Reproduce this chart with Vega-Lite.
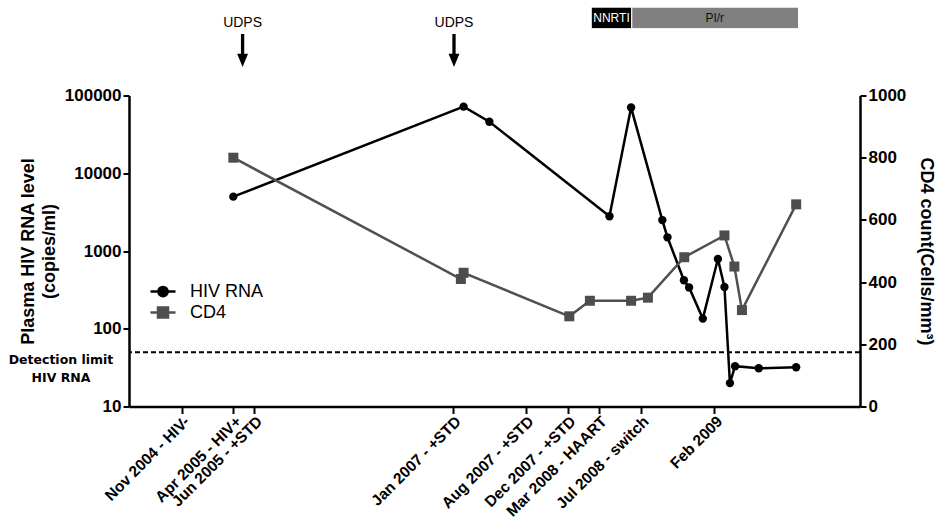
{
  "$schema": "https://vega.github.io/schema/vega-lite/v6.json",
  "background": "white",
  "padding": {"left": 8, "top": 0, "right": 10, "bottom": 0},
  "config": {
    "view": {"stroke": null},
    "font": "Liberation Sans",
    "axis": {"domainColor": "black", "tickColor": "black", "labelColor": "black", "titleColor": "black", "grid": false}
  },
  "datasets": {
    "hiv": [
      {"date": "2005-04-01", "copies": 5000},
      {"date": "2007-02-01", "copies": 72000},
      {"date": "2007-04-17", "copies": 46000},
      {"date": "2008-04-01", "copies": 2800},
      {"date": "2008-06-03", "copies": 70000},
      {"date": "2008-09-02", "copies": 2500},
      {"date": "2008-09-17", "copies": 1500},
      {"date": "2008-11-04", "copies": 420},
      {"date": "2008-11-19", "copies": 340},
      {"date": "2008-12-29", "copies": 135},
      {"date": "2009-02-11", "copies": 790},
      {"date": "2009-03-02", "copies": 345},
      {"date": "2009-03-18", "copies": 20},
      {"date": "2009-04-02", "copies": 33},
      {"date": "2009-06-10", "copies": 31},
      {"date": "2009-09-27", "copies": 32}
    ],
    "cd4": [
      {"date": "2005-04-01", "cells": 800},
      {"date": "2007-01-24", "cells": 410},
      {"date": "2007-02-01", "cells": 430},
      {"date": "2007-12-06", "cells": 290},
      {"date": "2008-02-04", "cells": 340},
      {"date": "2008-06-03", "cells": 340},
      {"date": "2008-07-22", "cells": 350},
      {"date": "2008-11-05", "cells": 480},
      {"date": "2009-03-02", "cells": 550},
      {"date": "2009-03-31", "cells": 450},
      {"date": "2009-04-22", "cells": 310},
      {"date": "2009-09-27", "cells": 650}
    ],
    "regimen": [
      {"drug": "NNRTI", "start": "2008-02-08", "end": "2008-06-05"},
      {"drug": "PI/r", "start": "2008-06-05", "end": "2009-10-04"}
    ],
    "udps": [
      {"label": "UDPS", "date": "2005-04-28"},
      {"label": "UDPS", "date": "2007-01-04"}
    ]
  },
  "bounds": "flush",
  "spacing": 7.5,
  "resolve": {"scale": {"color": "independent", "fill": "independent"}, "legend": {"color": "independent", "fill": "independent"}},
  "vconcat": [
    {
      "width": 731,
      "height": 88,
      "layer": [
        {
          "data": {"name": "regimen"},
          "transform": [{"filter": "datum.drug == 'NNRTI'"}],
          "mark": {"type": "rect", "fill": "black", "stroke": "white", "strokeWidth": 1},
          "encoding": {
            "x": {"field": "start", "type": "temporal", "axis": null,
                  "scale": {"domain": [{"year": 2004, "month": 6, "date": 1}, {"year": 2010, "month": 4, "date": 1}]}},
            "x2": {"field": "end"},
            "y": {"datum": 7.3, "type": "quantitative", "axis": null, "scale": {"domain": [0, 88], "reverse": true}},
            "y2": {"datum": 29.3}
          }
        },
        {
          "data": {"name": "regimen"},
          "transform": [{"filter": "datum.drug == 'PI/r'"}],
          "mark": {"type": "rect", "fill": "#808080", "stroke": "white", "strokeWidth": 1},
          "encoding": {
            "x": {"field": "start", "type": "temporal", "axis": null},
            "x2": {"field": "end"},
            "y": {"datum": 7.3, "type": "quantitative"},
            "y2": {"datum": 29.3}
          }
        },
        {
          "data": {"name": "regimen"},
          "transform": [{"filter": "datum.drug == 'NNRTI'"}],
          "mark": {"type": "text", "fontSize": 12, "align": "left", "baseline": "middle", "dx": 2, "color": "white"},
          "encoding": {
            "x": {"field": "start", "type": "temporal", "axis": null},
            "y": {"datum": 18.3, "type": "quantitative"},
            "text": {"field": "drug"}
          }
        },
        {
          "data": {"name": "regimen"},
          "transform": [{"filter": "datum.drug == 'PI/r'"}],
          "mark": {"type": "text", "fontSize": 12, "align": "center", "baseline": "middle", "dx": 83, "color": "#111111"},
          "encoding": {
            "x": {"field": "start", "type": "temporal", "axis": null},
            "y": {"datum": 18.3, "type": "quantitative"},
            "text": {"field": "drug"}
          }
        },
        {
          "data": {"name": "udps"},
          "mark": {"type": "text", "fontSize": 14, "align": "center", "baseline": "middle", "color": "black"},
          "encoding": {
            "x": {"field": "date", "type": "temporal", "axis": null},
            "y": {"datum": 23.3, "type": "quantitative"},
            "text": {"field": "label"}
          }
        },
        {
          "data": {"name": "udps"},
          "mark": {"type": "point", "shape": "M-0.1,-1H0.1V0.2H0.33L0,1L-0.33,0.2H-0.1Z", "size": 1089, "filled": true, "color": "black", "opacity": 1, "strokeWidth": 0},
          "encoding": {
            "x": {"field": "date", "type": "temporal", "axis": null},
            "y": {"datum": 51.7, "type": "quantitative"}
          }
        }
      ]
    },
    {
      "width": 731,
      "height": 311,
      "layer": [
        {
          "layer": [
            {
              "data": {"name": "hiv"},
              "mark": {"type": "line", "color": "black", "strokeWidth": 2.5},
              "encoding": {
                "x": {"field": "date", "type": "temporal",
                      "scale": {"domain": [{"year": 2004, "month": 6, "date": 1}, {"year": 2010, "month": 4, "date": 1}]},
                      "axis": {
                        "title": null,
                        "values": [
                          {"year": 2004, "month": 11, "date": 1},
                          {"year": 2005, "month": 4, "date": 1},
                          {"year": 2005, "month": 6, "date": 1},
                          {"year": 2007, "month": 1, "date": 1},
                          {"year": 2007, "month": 8, "date": 1},
                          {"year": 2007, "month": 12, "date": 1},
                          {"year": 2008, "month": 3, "date": 1},
                          {"year": 2008, "month": 7, "date": 1},
                          {"year": 2009, "month": 2, "date": 1}
                        ],
                        "labelExpr": "timeFormat(datum.value, '%b %Y') + (timeFormat(datum.value, '%Y-%m') == '2004-11' ? ' - HIV-' : timeFormat(datum.value, '%Y-%m') == '2005-04' ? ' - HIV+' : timeFormat(datum.value, '%Y-%m') == '2008-03' ? ' - HAART' : timeFormat(datum.value, '%Y-%m') == '2008-07' ? ' - switch' : timeFormat(datum.value, '%Y-%m') == '2009-02' ? '' : ' - +STD')",
                        "labelAngle": -45,
                        "labelFont": "Liberation Sans",
                        "labelFontWeight": "bold",
                        "labelFontSize": 15.5,
                        "labelOverlap": false,
                        "labelFlush": false,
                        "labelPadding": 0,
                        "tickSize": 7,
                        "tickWidth": 2,
                        "domainWidth": 2.5
                      }},
                "y": {"field": "copies", "type": "quantitative",
                      "scale": {"type": "log", "domain": [10, 100000], "nice": false},
                      "axis": {
                        "orient": "left",
                        "values": [10, 100, 1000, 10000, 100000],
                        "format": "d",
                        "title": ["Plasma HIV RNA level", "(copies/ml)"],
                        "titleFont": "Liberation Sans",
                        "titleFontSize": 18,
                        "titleFontWeight": "bold",
                        "titleLineHeight": 21,
                        "titlePadding": 6,
                        "labelFont": "Liberation Sans",
                        "labelFontWeight": "bold",
                        "labelFontSize": 17,
                        "labelPadding": 2,
                        "tickSize": 6,
                        "tickWidth": 2,
                        "domainWidth": 2.5
                      }}
              }
            },
            {
              "data": {"name": "hiv"},
              "mark": {"type": "point", "filled": true, "size": 70, "opacity": 1},
              "encoding": {
                "x": {"field": "date", "type": "temporal", "axis": {"title": null}},
                "y": {"field": "copies", "type": "quantitative"},
                "color": {"datum": "HIV RNA", "type": "nominal",
                          "scale": {"domain": ["HIV RNA"], "range": ["black"]},
                          "legend": {
                            "title": null, "orient": "none", "legendX": 20, "legendY": 182, "padding": 0,
                            "symbolType": "M-1,0H1M0.37,0A0.37,0.37 0 1,1 -0.37,0A0.37,0.37 0 1,1 0.37,0Z",
                            "symbolSize": 625, "symbolStrokeWidth": 2.5, "symbolStrokeColor": "black", "symbolFillColor": "black",
                            "labelFont": "Liberation Sans", "labelFontSize": 18, "labelColor": "black", "labelOffset": 13,
                            "encode": {"symbols": {"update": {"shape": {"value": "M-1,0H1M0.37,0A0.37,0.37 0 1,1 -0.37,0A0.37,0.37 0 1,1 0.37,0Z"}, "stroke": {"value": "black"}, "strokeWidth": {"value": 2.5}, "fill": {"value": "black"}, "opacity": {"value": 1}}}}
                          }}
              }
            },
            {
              "data": {"values": [{}]},
              "mark": {"type": "rule", "strokeDash": [5, 3], "strokeWidth": 2, "color": "black"},
              "encoding": {
                "y": {"datum": 50, "type": "quantitative"}
              }
            },
            {
              "data": {"values": [{}]},
              "mark": {"type": "text", "text": ["Detection limit", "HIV RNA"], "font": "DejaVu Sans", "fontWeight": "bold", "fontSize": 12.5, "lineHeight": 17.6, "align": "center", "baseline": "top", "dx": -68, "dy": 2, "color": "black"},
              "encoding": {
                "x": {"datum": {"year": 2004, "month": 6, "date": 1}, "type": "temporal", "axis": {"title": null}},
                "y": {"datum": 50, "type": "quantitative"}
              }
            }
          ]
        },
        {
          "layer": [
            {
              "data": {"name": "cd4"},
              "mark": {"type": "line", "color": "#505050", "strokeWidth": 2.5},
              "encoding": {
                "x": {"field": "date", "type": "temporal", "axis": {"title": null}},
                "y": {"field": "cells", "type": "quantitative",
                      "scale": {"domain": [0, 1000], "nice": false},
                      "axis": {
                        "orient": "right",
                        "values": [0, 200, 400, 600, 800, 1000],
                        "format": "d",
                        "title": "CD4 count(Cells/mm³)",
                        "titleFont": "Liberation Sans",
                        "titleFontSize": 18,
                        "titleFontWeight": "bold",
                        "titlePadding": 11,
                        "labelFont": "Liberation Sans",
                        "labelFontWeight": "bold",
                        "labelFontSize": 17,
                        "labelPadding": 2,
                        "tickSize": 6,
                        "tickWidth": 2,
                        "domainWidth": 2.5
                      }}
              }
            },
            {
              "data": {"name": "cd4"},
              "mark": {"type": "point", "shape": "square", "filled": true, "size": 100, "opacity": 1},
              "encoding": {
                "x": {"field": "date", "type": "temporal", "axis": {"title": null}},
                "y": {"field": "cells", "type": "quantitative"},
                "fill": {"datum": "CD4", "type": "nominal",
                         "scale": {"domain": ["CD4"], "range": ["#4d4d4d"]},
                         "legend": {
                           "title": null, "orient": "none", "legendX": 20, "legendY": 203, "padding": 0,
                           "symbolType": "M-1,0H1M-0.4,-0.4H0.4V0.4H-0.4Z",
                           "symbolSize": 625, "symbolStrokeWidth": 2.5, "symbolStrokeColor": "#505050", "symbolFillColor": "#4d4d4d",
                           "labelFont": "Liberation Sans", "labelFontSize": 18, "labelColor": "black", "labelOffset": 13,
                           "encode": {"symbols": {"update": {"shape": {"value": "M-1,0H1M-0.4,-0.4H0.4V0.4H-0.4Z"}, "stroke": {"value": "#505050"}, "strokeWidth": {"value": 2.5}, "fill": {"value": "#4d4d4d"}, "opacity": {"value": 1}}}}
                         }}
              }
            }
          ]
        }
      ],
      "resolve": {"scale": {"y": "independent"}}
    }
  ]
}
